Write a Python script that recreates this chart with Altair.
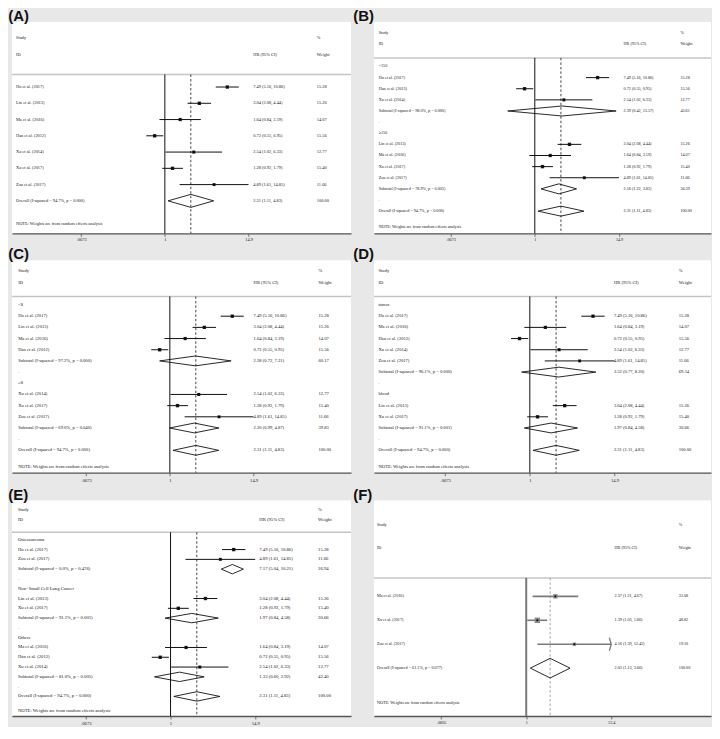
import altair as alt
import pandas as pd

# ---------------- data ----------------
studies = ["Hu et al. (2017)", "Lin et al. (2013)", "Ma et al. (2016)", "Han et al. (2012)",
           "Xu et al. (2014)", "Xu et al. (2017)", "Zou et al. (2017)"]
hr = [7.49, 3.04, 1.64, 0.72, 2.54, 1.28, 4.89]
hr_lo = [5.16, 2.08, 0.84, 0.55, 1.02, 0.92, 1.61]
hr_hi = [10.86, 4.44, 3.19, 0.95, 6.33, 1.79, 14.85]
weights = [15.28, 15.26, 14.07, 15.56, 12.77, 15.40, 11.66]

overall_label = "Overall  (I-squared = 94.7%, p = 0.000)"
overall_vals = [2.31, 1.11, 4.83, 100.00]

a_order = [0, 1, 2, 3, 4, 5, 6]

b_groups = ["<150", "≥150"]
b_members = [[0, 3, 4], [1, 2, 5, 6]]
b_sub_labels = ["Subtotal  (I-squared = 98.0%, p = 0.000)", "Subtotal  (I-squared = 78.9%, p = 0.003)"]
b_sub_hr = [2.39, 2.16]
b_sub_lo = [0.42, 1.22]
b_sub_hi = [13.57, 3.82]
b_sub_w = [43.61, 56.39]

c_groups = ["<8", "≥8"]
c_members = [[0, 1, 2, 3], [4, 5, 6]]
c_sub_labels = ["Subtotal  (I-squared = 97.2%, p = 0.000)", "Subtotal  (I-squared = 69.0%, p = 0.040)"]
c_sub_hr = [2.28, 2.20]
c_sub_lo = [0.72, 0.99]
c_sub_hi = [7.21, 4.87]
c_sub_w = [60.17, 39.83]

d_groups = ["tumor", "blood"]
d_members = [[0, 2, 3, 4, 6], [1, 5]]
d_sub_labels = ["Subtotal  (I-squared = 96.1%, p = 0.000)", "Subtotal  (I-squared = 91.1%, p = 0.001)"]
d_sub_hr = [2.52, 1.97]
d_sub_lo = [0.77, 0.84]
d_sub_hi = [8.20, 4.58]
d_sub_w = [69.34, 30.66]

e_groups = ["Osteosarcoma", "Non\u2212Small Cell Lung Cancer", "Others"]
e_members = [[0, 6], [1, 5], [2, 3, 4]]
e_sub_labels = ["Subtotal  (I-squared = 0.0%, p = 0.476)", "Subtotal  (I-squared = 91.1%, p = 0.001)",
                "Subtotal  (I-squared = 81.0%, p = 0.005)"]
e_sub_hr = [7.17, 1.97, 1.33]
e_sub_lo = [5.04, 0.84, 0.60]
e_sub_hi = [10.21, 4.58, 2.92]
e_sub_w = [26.94, 30.66, 42.40]

f_studies = ["Ma et al. (2016)", "Xu et al. (2017)", "Zou et al. (2017)"]
f_hr = [2.37, 1.39, 4.16]
f_lo = [1.21, 1.03, 1.39]
f_hi = [4.67, 1.86, 12.42]
f_w = [32.08, 48.82, 19.10]
f_overall_label = "Overall  (I-squared = 61.1%, p = 0.077)"
f_overall_vals = [2.03, 1.13, 3.66, 100.00]

ticks_main = [0.0673, 1, 14.9]
tick_labels_main = [".0673", "1", "14.9"]
ticks_f = [0.0805, 1, 12.4]
tick_labels_f = [".0805", "1", "12.4"]

note_text = "NOTE: Weights are from random effects analysis"


# ---------------- row builders ----------------
def study_row(r, name, e, l, h, w):
    return dict(row=r, kind="study", label=name, est=e, lo=l, hi=h, w=w)


def simple_rows(names, e, l, h, w, ov_label, ov):
    rows = [study_row(i, names[i], e[i], l[i], h[i], w[i]) for i in range(len(names))]
    rows.append(dict(row=len(names), kind="overall", label=ov_label,
                     est=ov[0], lo=ov[1], hi=ov[2], w=ov[3]))
    return rows


def grouped_rows(groups, members, sl, se, slo, shi, sw):
    rows = []
    r = 0
    for g, mem, lab, e, l, h, w in zip(groups, members, sl, se, slo, shi, sw):
        rows.append(dict(row=r, kind="group", label=g)); r += 1
        for i in mem:
            rows.append(study_row(r, studies[i], hr[i], hr_lo[i], hr_hi[i], weights[i])); r += 1
        rows.append(dict(row=r, kind="sub", label=lab, est=e, lo=l, hi=h, w=w)); r += 1
        rows.append(dict(row=r, kind="dot", label=".")); r += 1
    rows.append(dict(row=r, kind="overall", label=overall_label, est=overall_vals[0],
                     lo=overall_vals[1], hi=overall_vals[2], w=overall_vals[3]))
    return rows


def panel(letter, rows, ticks, tick_labels, P):
    W, H = P["W"], P["H"]
    last = max(r["row"] for r in rows)
    ymax = last + 2
    sep_y = -0.77
    fs = P["fs"]
    grey = P.get("grey", False)

    df = pd.DataFrame(rows)
    for c in ["est", "lo", "hi", "w"]:
        if c not in df:
            df[c] = None
    clip = ticks[-1]
    df["hi_clip"] = [min(h, clip) if h == h and h is not None else None for h in df["hi"]]
    df["box"] = [w * P["k"] if w == w and w is not None else None for w in df["w"]]
    df["hrtxt"] = [f"{e:.2f} ({l:.2f}, {h:.2f})" if k in ("study", "sub", "overall") else ""
                   for e, l, h, k in zip(df["est"], df["lo"], df["hi"], df["kind"])]
    df["wtxt"] = [f"{w:.2f}" if k in ("study", "sub", "overall") else ""
                  for w, k in zip(df["w"], df["kind"])]
    studies_df = df[df["kind"] == "study"]
    arrows_df = studies_df[studies_df["hi"] > clip]

    # diamonds
    dh = P["dh"]
    verts = []
    for _, r in df[df["kind"].isin(["sub", "overall"])].iterrows():
        pts = [(r["lo"], r["row"]), (r["est"], r["row"] - dh), (r["hi"], r["row"]),
               (r["est"], r["row"] + dh), (r["lo"], r["row"])]
        for k, (xv, yv) in enumerate(pts):
            verts.append(dict(id=int(r["row"]), k=k, x=xv, y=yv))
    dia_df = pd.DataFrame(verts)

    ov_est = df[df["kind"] == "overall"]["est"].iloc[0]
    vlines = pd.DataFrame({"x": [1, ov_est], "y1": [sep_y, sep_y], "y2": [ymax, ymax],
                           "kind": ["null", "overall"]})

    left_txt = [dict(row=-3, t="Study"), dict(row=-2, t="ID")] + \
               [dict(row=r["row"], t=r["label"]) for r in rows] + \
               [dict(row=last + 1.45, t=note_text)]
    hr_txt = [dict(row=-2, t="HR (95% CI)")] + \
             [dict(row=r, t=t) for r, t in zip(df["row"], df["hrtxt"]) if t]
    wt_txt = [dict(row=-3, t="%"), dict(row=-2, t="Weight")] + \
             [dict(row=r, t=t) for r, t in zip(df["row"], df["wtxt"]) if t]

    lo_dom = 10 ** (-P["x1"] / P["ppd"])
    hi_dom = 10 ** ((W - P["x1"]) / P["ppd"])
    xscale = alt.Scale(type="log", domain=[lo_dom, hi_dom], nice=False)
    parts = [f"abs(datum.value - {t}) < {t * 0.01} ? '{l}'" for t, l in zip(ticks, tick_labels)]
    label_expr = " : ".join(parts) + " : ''"
    axis = alt.Axis(values=ticks, labelExpr=label_expr, title=None, grid=False,
                    domainColor="#555555", domainWidth=1.3, tickColor="#555555", tickSize=3,
                    tickWidth=0.8, labelFont="Liberation Serif", labelFontSize=fs,
                    labelColor="#222222", labelPadding=1.5, labelFlush=False,
                    labelOverlap=False)
    yscale = alt.Scale(domain=[-4, ymax], reverse=True, nice=False, zero=False)

    def X(f):
        return alt.X(f, type="quantitative", scale=xscale, axis=axis)

    def Y(f):
        return alt.Y(f, type="quantitative", scale=yscale, axis=None)

    line_col = "#7a7a7a" if grey else "#111111"
    ci_w = 1.6 if grey else 1.0
    null_w = 2.0 if grey else 1.0
    box_col = "#8a8a8a" if grey else "#222222"
    dash_col = "#9a9a9a" if grey else "#333333"

    sep = alt.Chart(pd.DataFrame({"row": [sep_y]})).mark_rule(
        color="#c4c4c4", strokeWidth=1.5).encode(y=Y("row"))
    nullline = alt.Chart(vlines[vlines["kind"] == "null"]).mark_rule(
        color=line_col, strokeWidth=null_w).encode(x=X("x"), y=Y("y1"), y2="y2")
    ovline = alt.Chart(vlines[vlines["kind"] == "overall"]).mark_rule(
        color=dash_col, strokeWidth=0.9, strokeDash=[2.5, 2]).encode(x=X("x"), y=Y("y1"), y2="y2")
    ci = alt.Chart(studies_df).mark_rule(color=line_col, strokeWidth=ci_w).encode(
        x=X("lo"), x2="hi_clip", y=Y("row"))
    boxes = alt.Chart(studies_df).mark_square(color=box_col, opacity=1).encode(
        x=X("est"), y=Y("row"), size=alt.Size("box:Q", scale=None, legend=None))
    dots = alt.Chart(studies_df).mark_square(color="#000000", size=3, opacity=1).encode(
        x=X("est"), y=Y("row"))
    dia = alt.Chart(dia_df).mark_line(color="#111111", strokeWidth=0.9).encode(
        x=X("x"), y=Y("y"), detail="id:N", order="k:Q")

    def txt(data, col):
        return alt.Chart(pd.DataFrame(data)).mark_text(
            align="left", baseline="middle", font="Liberation Serif", fontSize=fs,
            color="#1a1a1a").encode(x=alt.value(col), y=Y("row"), text="t:N")

    layers = [sep, nullline, ovline, ci, boxes, dots, dia,
              txt(left_txt, P["c1"]), txt(hr_txt, P["c2"]), txt(wt_txt, P["c3"])]
    if len(arrows_df):
        arrows_df = arrows_df.assign(clip=clip)
        arrow = alt.Chart(arrows_df).mark_point(
            shape="M -0.3 -1 L 0 0 L -0.3 1", filled=False, size=170, color=line_col,
            strokeWidth=1.3, opacity=1).encode(x=X("clip"), y=Y("row"))
        layers.append(arrow)

    return alt.layer(*layers).properties(
        width=W, height=H,
        title=alt.TitleParams(text=f"({letter})", anchor="start", dx=P["tdx"], fontSize=15,
                              fontWeight="bold", font="Liberation Sans", color="#111111",
                              offset=P["toff"]))


rows_a = simple_rows([studies[i] for i in a_order], [hr[i] for i in a_order],
                     [hr_lo[i] for i in a_order], [hr_hi[i] for i in a_order],
                     [weights[i] for i in a_order], overall_label, overall_vals)
rows_b = grouped_rows(b_groups, b_members, b_sub_labels, b_sub_hr, b_sub_lo, b_sub_hi, b_sub_w)
rows_c = grouped_rows(c_groups, c_members, c_sub_labels, c_sub_hr, c_sub_lo, c_sub_hi, c_sub_w)
rows_d = grouped_rows(d_groups, d_members, d_sub_labels, d_sub_hr, d_sub_lo, d_sub_hi, d_sub_w)
rows_e = grouped_rows(e_groups, e_members, e_sub_labels, e_sub_hr, e_sub_lo, e_sub_hi, e_sub_w)
rows_f = simple_rows(f_studies, f_hr, f_lo, f_hi, f_w, f_overall_label, f_overall_vals)

PA = dict(W=340, H=212, x1=153.3, ppd=71.6, c1=4, c2=242, c3=305.7, fs=4.4, k=0.75, dh=0.4, tdx=-3, toff=-2)
PB = dict(W=338, H=212, x1=161.3, ppd=72.0, c1=4.7, c2=250.3, c3=307.3, fs=4.2, k=0.75, dh=0.45, tdx=-20, toff=-2)
PC = dict(W=340, H=213, x1=158.3, ppd=71.6, c1=6.3, c2=242.3, c3=307.3, fs=4.6, k=0.75, dh=0.44, tdx=-3, toff=-2)
PD = dict(W=338, H=213, x1=156.3, ppd=72.45, c1=4.6, c2=240.6, c3=305.6, fs=4.6, k=0.75, dh=0.44, tdx=-20, toff=-2)
PE = dict(W=340, H=216, x1=159.0, ppd=72.45, c1=6, c2=248, c3=307, fs=4.7, k=0.75, dh=0.48, tdx=-3, toff=-2)
PF = dict(W=338, H=216, x1=152.7, ppd=78.0, c1=3, c2=241.3, c3=305.7, fs=4.2, k=0.6, dh=0.41, tdx=-20, toff=-2, grey=True)

pa = panel("A", rows_a, ticks_main, tick_labels_main, PA)
pb = panel("B", rows_b, ticks_main, tick_labels_main, PB)
pc = panel("C", rows_c, ticks_main, tick_labels_main, PC)
pd_ = panel("D", rows_d, ticks_main, tick_labels_main, PD)
pe = panel("E", rows_e, ticks_main, tick_labels_main, PE)
pf = panel("F", rows_f, ticks_f, tick_labels_f, PF)

chart = alt.vconcat(
    alt.hconcat(pa, pb, spacing=1),
    alt.hconcat(pc, pd_, spacing=1),
    alt.hconcat(pe, pf, spacing=1),
    spacing=5,
).configure(background="#e8e8e8", padding=0).configure_view(fill="white", strokeWidth=0)

chart.save("out.html", embed_options={"renderer": "svg", "actions": False})
